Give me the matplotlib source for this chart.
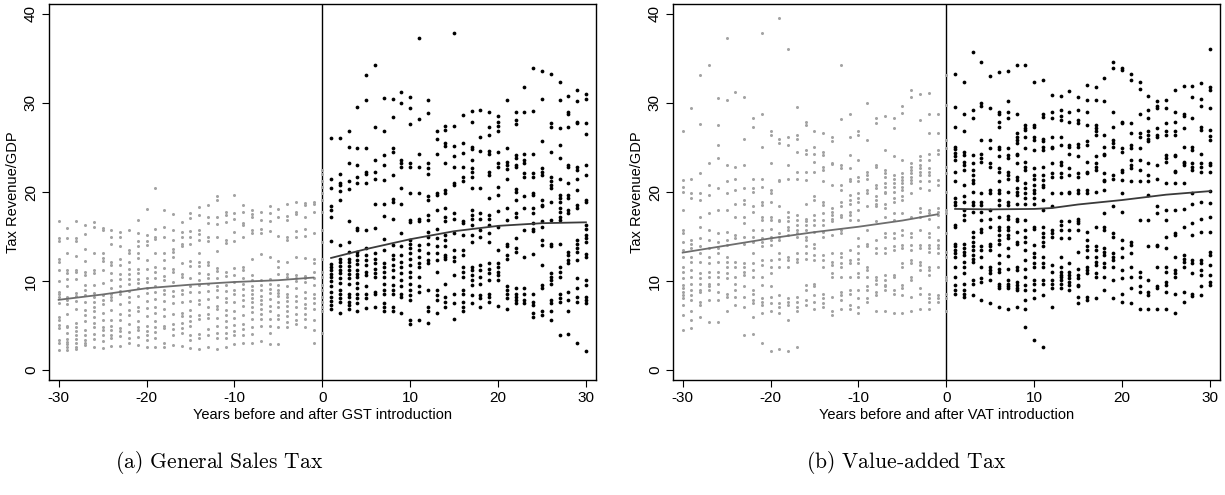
import matplotlib
matplotlib.use("Agg")
import matplotlib.pyplot as plt

plt.rcParams['font.family'] = ['Liberation Sans', 'DejaVu Sans']
plt.rcParams['mathtext.fontset'] = 'cm'
plt.rcParams['axes.unicode_minus'] = False

# years on the x axis
pre_years = list(range(-30, 1))
post_years = list(range(1, 31))

# General Sales Tax, before introduction (grey), one list per year -30..0
gst_pre = [
    [16.8,14.8,14.5,12.5,12.2,11.3,10.0,8.8,8.5,8.2,7.5,6.0,5.6,5.1,4.7,3.4,3.0,2.3],
    [16.0,14.8,13.1,11.2,10.9,10.2,9.4,8.2,7.9,7.4,6.3,5.0,4.8,4.2,3.5,3.2,2.9,2.6,2.3],
    [16.8,14.8,14.5,12.8,11.3,11.0,10.2,8.7,8.3,7.8,6.9,5.3,4.9,4.4,3.9,3.5,3.0,2.6,2.4],
    [16.3,15.3,13.6,12.3,11.0,10.7,9.6,9.0,8.4,7.7,6.8,6.2,5.5,4.5,4.0,3.4,3.1,2.8],
    [16.6,16.1,13.2,11.2,10.9,9.6,8.7,8.2,7.6,7.1,6.7,6.0,5.3,4.9,4.1,3.5,2.6],
    [16.0,15.7,13.1,12.6,12.3,11.2,9.8,8.4,7.9,7.4,6.4,5.6,4.8,4.5,3.9,3.3,2.5],
    [15.7,14.9,14.2,12.1,11.8,10.9,10.1,9.2,8.6,8.2,7.9,6.8,5.6,5.0,4.5,4.0,3.6,2.7],
    [15.5,14.9,13.9,12.5,11.8,10.8,10.2,9.4,8.9,8.5,7.4,6.3,5.6,4.7,4.4,3.8,2.7],
    [15.7,13.5,13.2,12.2,11.4,10.8,10.2,9.7,8.9,8.2,7.6,6.8,6.2,5.2,4.3,3.6,3.0],
    [16.9,15.4,14.5,13.9,13.2,12.6,11.4,10.9,10.2,9.8,9.2,8.3,7.1,6.6,5.5,4.8,4.5,3.7,2.8],
    [18.1,15.2,14.5,14.1,12.4,11.4,10.4,9.9,9.2,8.7,7.8,7.0,6.1,5.0,4.4,4.0,3.4,2.6],
    [20.5,15.9,14.9,14.7,13.1,11.6,11.0,10.3,9.5,8.8,8.0,7.1,6.4,5.5,4.9,4.3,3.6,2.6],
    [18.0,16.1,15.0,13.2,12.4,11.5,10.6,10.1,9.0,8.6,7.8,6.9,6.1,5.0,4.7,3.1,2.6],
    [17.5,15.7,14.6,13.6,13.3,12.7,11.4,11.0,9.9,8.9,8.3,7.5,6.3,5.2,4.6,4.0,2.8],
    [16.6,15.5,15.0,14.2,13.9,12.0,10.8,10.5,9.0,8.6,7.7,6.4,6.1,5.3,4.7,4.2,2.7],
    [17.7,17.1,15.6,14.9,14.2,12.3,11.7,10.4,9.5,8.8,7.8,6.8,6.1,5.5,5.0,4.0,3.4,2.5],
    [18.3,17.4,15.7,15.3,14.6,13.1,12.1,11.7,10.9,10.1,9.6,8.8,7.9,7.4,6.2,5.7,4.1,3.6,2.4],
    [18.5,17.2,16.5,15.0,14.5,12.1,11.8,10.8,10.3,9.7,8.9,8.0,7.1,6.3,5.9,4.6,3.9,2.6],
    [19.6,19.1,17.2,16.4,15.0,13.4,11.5,11.1,10.3,9.5,9.0,8.2,7.2,6.9,5.9,5.0,4.2,3.6,2.4],
    [17.8,17.4,16.6,14.6,14.3,11.0,10.6,9.6,8.9,8.1,7.6,6.8,6.2,5.5,4.9,4.2,3.6,2.6],
    [19.7,17.7,17.0,15.5,14.5,11.5,10.7,9.9,9.0,8.6,7.6,6.6,5.9,5.1,4.4,3.9,2.9],
    [18.5,17.8,16.5,16.3,15.0,11.6,11.3,10.4,9.7,9.1,8.4,7.9,7.2,6.2,5.2,4.6,3.9,3.0],
    [18.0,17.5,17.2,15.7,15.4,12.5,10.7,10.1,9.5,9.0,8.5,8.1,7.7,7.1,6.5,5.8,4.9,4.1,3.1],
    [17.8,16.9,15.9,15.4,13.0,10.1,9.6,9.0,8.3,7.9,7.4,6.9,6.3,5.7,5.0,3.3],
    [18.4,17.6,16.8,15.6,12.7,10.2,9.7,9.1,8.7,8.0,7.2,6.6,5.8,5.0,4.2,2.9],
    [18.1,17.2,15.1,12.3,11.6,10.8,9.6,9.0,8.7,8.3,7.7,7.1,6.2,5.7,4.9,2.9],
    [18.6,17.3,16.9,14.9,14.6,12.1,10.8,10.5,9.5,8.5,8.2,7.8,7.2,6.7,6.1,5.4,4.9],
    [18.9,17.8,17.5,15.6,14.9,12.7,10.7,10.4,10.0,9.2,8.3,7.8,7.1,6.3,5.6,5.2],
    [18.8,18.5,17.2,15.9,15.1,12.6,10.6,10.3,9.9,8.8,8.1,7.4,7.0,6.3,5.8,4.8],
    [18.9,18.7,17.8,15.4,12.5,12.0,11.0,10.3,9.6,8.6,8.1,7.5,6.9,5.6,4.5,3.0],
    [22.5,22.0,21.2,20.6,19.9,19.1,17.8,15.7,14.4,12.5,11.0,10.5,9.6,9.0,8.2,7.7,7.1,6.6,4.2],
]

# General Sales Tax, after introduction (black), one list per year 1..30
gst_post = [
    [26.1,21.5,20.5,18.4,18.0,17.2,14.5,11.9,11.6,11.2,10.8,10.5,10.0,9.4,8.8,8.2,7.8,7.3,6.9],
    [26.1,22.0,21.0,20.8,20.1,19.1,14.0,12.5,12.1,11.7,11.3,10.9,10.4,9.8,9.0,8.6,8.1,7.6,6.4],
    [26.8,25.0,23.3,21.2,20.3,16.7,14.4,13.3,12.5,12.1,11.7,11.2,10.8,10.4,9.7,8.6,8.2,7.7,7.3,6.9],
    [29.5,24.9,23.0,21.7,21.0,16.0,15.7,13.3,12.9,12.4,11.9,11.3,10.8,10.5,9.8,9.2,8.6,8.1,7.5,6.6],
    [33.1,30.3,24.9,22.3,22.0,21.0,15.7,13.7,12.9,12.4,11.8,11.0,10.7,9.4,8.6,8.1,7.0],
    [34.3,27.3,23.6,22.2,21.5,18.7,16.0,13.1,12.5,12.0,11.4,10.9,10.5,8.8,8.6,7.1],
    [30.5,26.9,24.2,23.0,21.3,18.7,17.3,14.7,13.5,12.0,11.6,11.0,10.5,9.7,9.0,8.6,7.5,7.1,6.6],
    [30.4,28.4,24.9,24.5,21.9,19.2,18.9,17.0,14.0,12.9,12.5,11.8,11.2,10.5,9.6,9.0,8.6,7.1,6.6],
    [31.2,30.0,23.6,23.2,22.8,20.4,18.7,15.4,13.9,12.9,12.2,11.6,10.9,10.1,9.4,8.6,8.2,6.4],
    [30.7,29.4,27.6,23.2,22.8,19.9,16.9,16.6,14.6,14.2,13.7,13.1,12.5,11.8,11.0,10.5,9.7,9.0,8.4,7.9,5.6,5.2],
    [37.3,28.2,24.3,22.8,19.9,17.0,16.7,14.0,13.5,12.7,12.0,11.6,10.5,9.4,8.8,5.6],
    [30.3,28.9,23.2,22.7,22.0,19.5,19.1,17.4,16.9,15.5,14.9,14.2,13.1,12.4,12.0,9.0,7.1,6.7,5.3],
    [26.8,26.0,24.3,19.9,19.7,18.0,15.8,14.8,13.9,13.1,12.4,11.0,9.0,8.4,7.9,6.4],
    [27.4,27.0,25.5,25.2,23.2,20.2,19.9,18.2,17.2,16.7,15.2,14.6,13.9,12.9,12.7,12.5,9.7,8.2,7.7,7.1],
    [37.8,27.4,25.2,24.0,22.8,21.0,20.8,17.6,17.0,15.4,13.5,12.7,12.3,10.7,8.6,7.5,5.8],
    [28.6,25.5,24.4,22.8,21.7,21.2,16.8,16.5,15.2,13.5,12.9,11.6,11.0,10.5,9.0,8.6,7.7,7.1,6.6],
    [29.1,27.9,25.1,24.8,23.6,22.7,22.3,21.7,20.4,18.0,17.4,17.0,16.3,15.2,14.4,11.6,11.2,10.7,10.1,9.6,8.4,7.5],
    [29.2,26.2,24.6,20.4,17.6,17.0,15.7,15.0,11.8,11.2,10.5,9.7,8.4,8.1,7.1],
    [29.0,27.3,26.4,24.6,24.3,22.3,21.9,19.3,17.4,17.0,16.3,15.4,14.4,12.0,11.4,10.9,10.1,8.6,8.2,7.7],
    [28.5,27.9,27.4,26.9,24.5,23.2,22.8,20.6,19.7,17.9,16.1,13.5,12.0,11.6,11.0,10.7,10.1,7.2],
    [30.3,24.9,23.4,23.0,22.6,21.5,18.2,16.9,14.2,13.9,12.9,12.5,9.4,9.0,8.6,8.1,6.9],
    [29.0,28.1,27.6,24.2,23.8,23.0,22.8,20.3,20.0,19.1,17.6,17.2,14.8,13.7,13.3,9.2,8.6,8.2,7.9,7.5],
    [31.8,29.0,24.3,23.6,23.2,22.1,21.7,19.5,18.2,15.7,12.7,9.2,8.6,7.9,7.5],
    [33.9,29.1,24.3,22.1,21.7,19.9,19.7,18.2,17.6,16.5,15.9,15.6,13.0,8.6,7.6,7.3,6.4,6.0],
    [33.6,30.4,25.7,22.7,22.3,21.9,19.1,18.5,18.4,16.7,16.1,14.6,14.0,11.8,9.6,9.2,6.6,6.2],
    [33.2,27.7,27.3,24.5,21.7,21.2,20.8,20.4,18.9,16.9,14.2,13.9,10.9,10.5,10.1,9.7,7.9,7.5,6.6,5.6],
    [32.3,30.3,27.2,25.3,23.8,21.5,19.7,19.3,18.9,18.2,17.8,17.2,16.9,14.2,11.6,11.0,10.5,8.6,8.1,7.7,3.9],
    [30.8,29.0,28.8,27.3,23.0,22.8,21.0,19.7,19.3,18.0,17.6,13.3,12.9,12.4,12.0,8.8,7.9,6.6,4.1],
    [31.5,30.2,27.9,27.7,22.8,22.5,21.5,20.2,18.5,18.2,14.6,14.2,13.7,13.3,12.4,10.3,9.2,8.2,7.7,3.0],
    [31.0,30.4,27.7,26.5,23.0,21.9,19.1,18.9,16.3,15.9,15.2,14.8,14.4,13.0,12.7,10.1,9.6,8.2,7.9,7.5,2.2],
]

# Value-added Tax, before introduction (grey), one list per year -30..0
vat_pre = [
    [26.8,21.3,20.6,20.0,18.0,15.7,15.4,14.4,13.5,12.7,11.6,11.0,10.3,9.6,9.2,8.8,8.4,8.1,7.3,6.2,4.5],
    [29.4,21.5,19.9,19.3,14.6,14.2,13.7,12.7,12.2,11.2,10.5,9.7,9.0,8.4,7.9,6.6,5.6,4.7],
    [33.1,27.6,22.1,19.9,19.1,17.2,16.1,14.8,13.9,13.1,12.2,10.9,10.3,9.7,9.0,8.8,7.7,7.3,6.0],
    [34.3,23.3,20.8,19.7,17.7,15.7,14.6,13.7,12.7,12.0,11.0,10.5,9.7,9.4,9.0,7.9,5.4],
    [30.5,27.5,25.3,23.8,20.4,18.0,15.4,14.4,13.7,13.1,12.2,11.0,10.5,9.7,8.8,7.9,5.4],
    [37.3,30.3,23.0,21.2,19.9,18.0,15.5,14.6,14.0,12.7,12.2,11.6,10.9,10.3,8.6,8.2,6.6],
    [31.2,22.8,21.5,20.2,18.7,17.2,15.2,14.8,12.2,11.6,10.5,9.7,9.0,8.2,7.3],
    [30.7,26.0,23.0,20.4,19.1,18.7,17.2,16.5,15.0,14.2,12.0,11.6,11.0,10.7,9.4,8.2,7.1,3.9],
    [28.3,27.3,21.5,20.4,20.0,18.4,17.8,15.7,15.0,14.4,13.1,12.0,11.2,10.5,9.0,8.6,7.9,7.5,6.0,4.1],
    [37.8,28.8,25.1,21.5,20.6,18.9,18.5,17.2,16.9,15.7,14.8,14.4,13.9,12.4,11.8,10.5,9.6,8.1,7.7,7.3,6.4,3.0],
    [26.8,26.4,23.2,20.2,19.9,18.9,17.2,16.9,15.9,15.0,14.6,14.0,12.4,11.6,10.9,9.4,8.2,7.5,6.6,2.2],
    [39.5,26.0,25.5,21.3,21.2,18.4,16.9,16.7,15.4,15.0,14.6,13.1,12.5,11.6,8.4,7.5,7.1,6.4,2.4],
    [36.0,26.2,25.3,23.0,21.5,17.8,17.2,16.7,16.1,15.7,15.2,12.7,12.4,11.6,8.1,7.7,7.3,5.6,2.1],
    [29.5,26.4,26.0,24.5,22.3,21.5,17.4,16.9,16.3,15.7,15.4,15.0,13.1,12.5,12.2,8.2,7.7,7.1,6.6,2.6],
    [27.9,27.5,24.7,24.3,22.3,21.3,18.7,17.0,16.7,16.3,15.7,15.0,14.6,13.9,13.1,12.5,9.6,9.0,7.9,7.3],
    [26.8,25.1,24.3,23.4,22.3,19.5,19.1,17.4,16.9,16.3,15.5,14.2,13.7,12.9,12.4,9.7,9.4,8.4,7.7,6.9],
    [26.6,24.5,24.2,22.8,22.5,21.2,18.9,18.5,17.6,16.9,16.3,15.5,15.0,12.9,12.4,11.6,8.6,8.1,7.5,7.1],
    [26.2,25.7,23.3,23.1,20.8,18.2,17.8,17.4,17.0,16.7,15.2,13.1,12.2,11.8,10.9,10.5,8.2,6.7,6.2],
    [34.2,28.2,23.0,22.7,20.8,20.2,18.9,18.4,17.4,17.2,15.7,15.4,13.1,12.7,12.0,11.6,10.5,8.8,8.4,7.9,6.9],
    [28.7,26.2,24.2,22.7,21.5,21.2,19.7,19.1,18.7,17.8,17.4,16.9,13.5,12.4,12.0,10.5,9.0,8.6,7.3,6.9],
    [26.8,26.4,23.6,21.7,21.2,19.9,19.3,18.9,18.0,16.9,14.8,13.9,13.1,12.5,12.0,10.9,10.5,9.0,8.1,7.1,6.4],
    [30.0,25.8,22.3,21.9,21.5,20.2,19.9,18.4,15.7,14.2,13.9,11.6,11.2,10.5,9.4,9.0,8.1,7.7],
    [28.3,27.7,23.0,22.8,20.8,20.4,19.5,19.1,18.7,18.4,16.7,14.6,13.7,13.1,10.5,10.1,9.7,8.8,8.4,6.7],
    [28.5,24.7,22.5,22.1,21.7,21.0,20.6,20.0,19.9,18.7,18.2,17.2,15.4,15.0,13.7,13.1,10.7,10.1,9.6,9.4,9.0,6.6],
    [28.3,27.2,24.0,21.9,21.5,21.0,20.6,20.0,19.3,18.9,17.6,16.9,15.4,14.8,13.9,13.5,10.7,10.5,9.0,8.6,6.4],
    [29.7,28.9,23.6,22.1,21.7,21.3,21.0,20.6,20.2,19.5,19.1,17.6,15.7,15.2,14.0,13.7,12.0,11.6,9.6,9.2,8.4,6.4],
    [31.5,30.7,23.2,22.8,22.5,22.1,21.7,21.3,21.0,19.9,17.2,15.4,15.0,14.0,13.5,12.4,12.0,10.5,10.1,8.2,6.6],
    [31.0,28.1,24.0,23.6,23.0,22.7,22.3,21.9,21.2,20.4,18.2,17.8,17.2,15.7,14.0,13.7,12.2,11.8,11.2,9.2,8.6,6.9],
    [31.1,28.8,26.6,24.3,23.6,22.7,22.3,21.9,21.2,20.2,18.0,17.6,17.0,15.4,15.0,14.0,13.7,13.3,11.6,11.2,10.7,8.6,8.1,7.7,6.9],
    [28.8,26.6,24.7,24.3,21.3,20.8,18.2,17.8,17.4,16.1,14.6,14.0,13.7,13.1,11.6,8.4,8.1,7.7],
    [33.1,29.8,25.8,24.9,22.8,22.1,20.0,18.0,17.6,15.4,13.3,12.7,10.5,10.1,8.6,8.1,6.6],
]

# Value-added Tax, after introduction (black), one list per year 1..30
vat_post = [
    [33.3,29.5,27.3,25.1,24.8,24.4,24.0,23.6,22.3,21.2,19.3,18.9,18.5,16.3,16.1,14.2,13.9,13.5,13.1,12.7,11.6,10.5,9.6,9.0,8.6],
    [32.3,28.8,26.8,24.5,24.2,23.4,23.0,22.5,20.8,19.5,18.9,18.0,17.4,16.9,14.2,13.7,13.3,12.9,12.2,11.6,10.9,9.7,9.0,8.6,8.2],
    [35.7,29.2,28.3,24.2,23.2,22.5,21.9,21.3,21.0,20.0,18.9,18.5,17.8,15.5,15.0,14.4,13.9,13.5,12.9,12.5,12.2,10.1,9.7,8.4],
    [34.6,30.0,29.6,25.8,24.3,23.8,23.4,19.9,18.9,18.5,17.8,16.9,15.9,15.5,13.9,13.5,12.7,11.6,10.3,9.9,7.9],
    [33.0,29.4,25.8,24.9,23.2,22.8,20.2,19.9,18.0,17.0,16.1,14.2,13.9,13.5,11.6,11.2,10.9,10.1,7.5],
    [33.5,29.0,28.7,27.9,27.3,25.1,24.8,24.0,22.7,22.3,21.2,20.2,19.9,19.1,18.5,17.2,16.1,15.7,15.2,14.6,14.2,12.9,12.0,11.4,11.0,9.7,9.4,9.2,7.1],
    [33.6,30.2,29.0,28.3,24.9,24.2,23.8,22.3,21.9,21.5,20.0,18.9,18.5,17.3,17.0,16.1,15.7,15.2,14.8,13.7,12.8,11.4,10.1,9.7,9.4,9.2,6.9],
    [34.2,28.8,26.6,26.2,25.8,25.5,24.3,24.2,23.2,21.7,21.3,20.4,20.0,19.7,18.7,17.0,16.7,15.5,14.4,14.2,11.6,11.2,9.9,9.6,9.2,9.0,7.1],
    [34.3,27.5,27.2,27.0,26.2,24.9,23.4,22.8,22.5,21.0,20.4,19.9,19.3,18.7,16.9,15.7,15.0,14.4,13.5,12.4,11.4,10.5,9.6,9.0,7.9,6.9,4.8],
    [32.4,27.5,27.3,26.2,25.8,24.7,22.7,21.9,21.5,20.8,20.2,19.9,19.3,18.7,16.1,15.9,14.0,13.1,12.7,12.0,11.6,10.1,9.7,9.0,8.1,3.4],
    [32.6,28.7,28.4,26.0,25.7,25.1,24.7,22.8,21.9,21.3,20.8,20.6,19.1,18.0,16.1,15.4,15.0,14.4,13.9,12.7,12.0,11.6,10.1,9.7,8.4,2.6],
    [30.9,29.0,28.3,26.2,25.1,24.9,23.2,22.1,21.7,19.9,18.4,15.7,15.4,15.0,11.8,11.0,10.1,9.7,9.2,7.1],
    [30.8,29.2,28.5,28.1,26.2,25.3,23.4,23.0,22.1,21.7,19.9,16.7,16.3,15.7,14.8,12.7,11.6,11.0,10.7,10.5,10.1,9.7,9.2],
    [31.3,29.0,27.9,25.3,25.1,24.3,22.7,21.9,20.0,19.9,16.7,15.7,14.8,12.0,11.0,10.7,10.3,9.9,9.6,9.0],
    [30.7,29.2,28.1,27.8,25.4,25.1,24.0,22.1,21.7,20.2,19.9,17.0,16.7,16.5,15.7,13.3,11.4,10.7,10.3,9.6,9.4,8.2,7.5],
    [32.0,30.3,29.0,27.5,25.7,25.3,23.4,22.3,22.1,20.2,19.9,15.5,14.6,13.9,13.5,12.7,11.6,11.2,10.9,8.2,7.9],
    [31.8,30.3,27.5,27.2,26.8,26.4,24.0,23.2,22.8,22.5,20.0,16.1,13.9,13.5,12.7,12.2,11.8,10.9,10.5,8.1],
    [32.8,30.2,26.4,25.1,24.3,24.2,22.1,21.3,21.2,20.2,17.6,16.1,15.7,13.7,13.3,12.9,12.0,11.6,10.5,9.0],
    [34.6,33.9,29.0,27.3,25.8,25.5,25.1,21.9,21.5,18.4,15.4,15.0,13.1,12.7,12.4,11.6,10.1,8.1],
    [33.9,33.7,27.9,27.7,24.9,24.5,22.5,22.3,21.3,19.9,17.8,14.6,13.7,12.7,11.2,10.3,8.6,7.7],
    [33.3,32.6,27.7,26.6,25.3,24.9,23.6,23.0,22.7,21.2,14.4,14.0,13.1,11.6,10.5,9.2,7.5],
    [32.3,31.6,28.8,26.6,26.2,24.9,23.6,22.5,21.2,16.9,11.0,10.5,9.4,8.8,6.9],
    [30.8,29.2,28.3,26.8,26.4,26.0,25.7,23.2,21.9,21.2,19.7,16.9,13.9,10.1,8.8,8.4,6.9],
    [30.2,29.6,29.4,27.2,26.4,26.2,23.0,21.5,18.4,17.6,14.0,13.9,11.6,9.4,9.2,6.9],
    [30.3,29.4,27.7,26.8,26.4,24.2,23.8,23.4,21.0,18.0,16.9,15.0,13.7,11.6,11.0,9.9,9.6,8.8,6.9],
    [31.4,29.0,27.9,26.8,26.4,24.2,24.0,22.4,22.2,21.0,18.0,15.4,15.2,12.7,11.2,10.9,10.5,8.6,6.4],
    [31.9,28.7,28.5,27.2,25.1,23.4,23.2,23.0,21.0,18.1,16.1,12.9,12.5,12.2,11.6,8.8,7.7],
    [31.9,30.7,28.3,25.1,24.7,23.2,22.8,22.5,19.9,18.7,16.5,15.2,12.4,12.0,10.9,8.6,8.3],
    [32.2,30.4,29.7,27.3,27.0,24.3,23.2,22.8,22.2,18.9,17.0,15.5,12.4,12.0,11.2,10.7,9.4,8.4],
    [36.1,31.8,31.5,29.4,27.0,26.3,25.8,23.3,23.0,22.2,20.1,18.8,17.2,15.5,13.3,12.9,11.8,10.7,9.9,9.6],
]

# smoothed fit lines
gst_pre_fit_x = [-30, -25, -20, -15, -10, -5, -1]
gst_pre_fit_y = [7.9, 8.5, 9.2, 9.6, 9.9, 10.1, 10.4]
gst_post_fit_x = [1, 5, 10, 15, 20, 25, 30]
gst_post_fit_y = [12.6, 13.6, 14.7, 15.6, 16.2, 16.5, 16.6]
vat_pre_fit_x = [-30, -25, -20, -15, -10, -5, -1]
vat_pre_fit_y = [13.2, 14.0, 14.8, 15.5, 16.1, 16.8, 17.5]
vat_post_fit_x = [1, 5, 10, 12, 15, 20, 25, 30]
vat_post_fit_y = [18.1, 18.05, 18.1, 18.2, 18.6, 19.1, 19.7, 20.1]

panels = [
    ("Years before and after GST introduction", gst_pre, gst_post,
     (gst_pre_fit_x, gst_pre_fit_y), (gst_post_fit_x, gst_post_fit_y),
     r"$\text{(a) General Sales Tax}$"),
    ("Years before and after VAT introduction", vat_pre, vat_post,
     (vat_pre_fit_x, vat_pre_fit_y), (vat_post_fit_x, vat_post_fit_y),
     r"$\text{(b) Value-added Tax}$"),
]

fig = plt.figure(figsize=(12.25, 4.95), dpi=100)
lefts = [0.040, 0.5494]
caption_x = [0.179, 0.740]

for i, (xlab, pre, post, pre_fit, post_fit, cap) in enumerate(panels):
    ax = fig.add_axes([lefts[i], 0.2323, 0.4462, 0.7596])
    px, py = [], []
    for yr, vals in zip(pre_years, pre):
        px += [yr] * len(vals)
        py += vals
    qx, qy = [], []
    for yr, vals in zip(post_years, post):
        qx += [yr] * len(vals)
        qy += vals
    ax.axvline(0, color='black', lw=1.0, zorder=1)
    ax.plot(px, py, 'o', color='#a3a3a3', ms=2.2, mew=0, zorder=2)
    ax.plot(qx, qy, 'o', color='black', ms=2.7, mew=0, zorder=2)
    ax.plot(pre_fit[0], pre_fit[1], color='#6e6e6e', lw=1.3, zorder=3)
    ax.plot(post_fit[0], post_fit[1], color='#3a3a3a', lw=1.3, zorder=3)
    ax.set_xlim(-31.1, 31.1)
    ax.set_ylim(-1.1, 41.1)
    ax.set_xticks([-30, -20, -10, 0, 10, 20, 30])
    ax.set_yticks([0, 10, 20, 30, 40])
    ax.tick_params(direction='out', length=5, width=0.8, labelsize=11, pad=3)
    for lab in ax.get_yticklabels():
        lab.set_rotation(90)
        lab.set_va('center')
    for s in ax.spines.values():
        s.set_linewidth(1.0)
    ax.set_xlabel(xlab, fontsize=10.5, labelpad=2)
    ax.set_ylabel("Tax Revenue/GDP", fontsize=10.5, labelpad=3)
    fig.text(caption_x[i], 0.065, cap, fontsize=15.5, ha='center', va='center')

fig.savefig("out.png", dpi=100)
